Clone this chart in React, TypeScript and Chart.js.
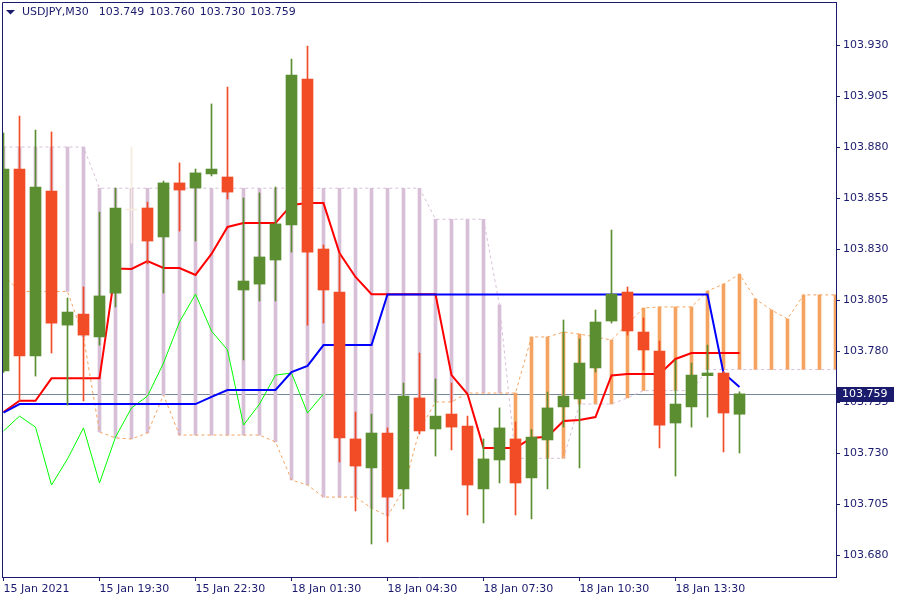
import React, { useEffect, useRef } from "react";
import { Chart, registerables } from "chart.js";

Chart.register(...registerables);

// ---------- data ----------
const symbolTitle = "USDJPY,M30";
const headerValues = ["103.749", "103.760", "103.730", "103.759"];

const xTickIndices = [0, 6, 12, 18, 24, 30, 36, 42];
const xTickLabels = [
  "15 Jan 2021",
  "15 Jan 19:30",
  "15 Jan 22:30",
  "18 Jan 01:30",
  "18 Jan 04:30",
  "18 Jan 07:30",
  "18 Jan 10:30",
  "18 Jan 13:30",
];
const yTickValues = [
  103.68, 103.705, 103.73, 103.755, 103.78, 103.805, 103.83, 103.855, 103.88, 103.905, 103.93,
];

const opens = [
  103.7702, 103.8692, 103.7776, 103.8584, 103.7927, 103.7981, 103.7869, 103.8084, 103.8491, 103.8501,
  103.8359, 103.8624, 103.8599, 103.8668, 103.8653, 103.8099, 103.8128, 103.8246, 103.8418, 103.9133,
  103.83, 103.8089, 103.7369, 103.7227, 103.7398, 103.7124, 103.757, 103.7418, 103.7491, 103.7432,
  103.7124, 103.7266, 103.7369, 103.7178, 103.7364, 103.7526, 103.7565, 103.7717, 103.7947, 103.8089,
  103.7893, 103.78, 103.7447, 103.7526, 103.7679, 103.7692, 103.749,
];
const highs = [
  103.8869, 103.8952, 103.8883, 103.8874, 103.806, 103.8114, 103.8481, 103.8599, 103.88, 103.853,
  103.8633, 103.8722, 103.8692, 103.9011, 103.9094, 103.855, 103.8575, 103.8604, 103.9231, 103.9295,
  103.832, 103.8276, 103.7501, 103.7491, 103.7423, 103.7643, 103.779, 103.7663, 103.7643, 103.7481,
  103.7369, 103.7521, 103.7452, 103.7415, 103.7599, 103.7952, 103.7859, 103.8001, 103.8393, 103.8114,
  103.7962, 103.7849, 103.7756, 103.7741, 103.7829, 103.77, 103.76,
];
const lows = [
  103.7695, 103.7555, 103.7677, 103.779, 103.7535, 103.7555, 103.7829, 103.8016, 103.8329, 103.8227,
  103.8084, 103.8388, 103.8339, 103.8658, 103.8545, 103.7756, 103.8045, 103.8045, 103.8285, 103.7927,
  103.7937, 103.7256, 103.7016, 103.6854, 103.6864, 103.7026, 103.7393, 103.7285, 103.7315, 103.6996,
  103.6957, 103.7153, 103.6996, 103.6977, 103.7124, 103.7427, 103.7227, 103.7697, 103.7937, 103.7878,
  103.7707, 103.7325, 103.7187, 103.7427, 103.7476, 103.7305, 103.73,
];
const closes = [
  103.8692, 103.7776, 103.8604, 103.7937, 103.7991, 103.7878, 103.807, 103.8501, 103.8491, 103.8339,
  103.8624, 103.8589, 103.8673, 103.8692, 103.8579, 103.8143, 103.8261, 103.8423, 103.9153, 103.8285,
  103.8099, 103.7374, 103.7236, 103.7398, 103.7084, 103.7579, 103.7408, 103.7481, 103.7427, 103.7143,
  103.7271, 103.7423, 103.7153, 103.7378, 103.7521, 103.7579, 103.7741, 103.7942, 103.8079, 103.7898,
  103.7805, 103.7437, 103.754, 103.7682, 103.7692, 103.7496, 103.759,
];

// Ichimoku (Tenkan 9, Kijun 26, Senkou B 52)
const tenkan = [
  103.7501, 103.7556, 103.7556, 103.7666, 103.7666, 103.7666, 103.7666, 103.8204, 103.8202, 103.8241,
  103.8207, 103.8207, 103.8173, 103.8276, 103.8408, 103.8427, 103.8427, 103.8427, 103.8516, 103.8525,
  103.8525, 103.828, 103.8163, 103.8078, 103.8078, 103.8078, 103.8078, 103.8078, 103.7682, 103.7589,
  103.7325, 103.7325, 103.7325, 103.7374, 103.738, 103.7457, 103.7462, 103.7476, 103.768, 103.7687,
  103.7687, 103.7687, 103.7761, 103.779, 103.779, 103.779, 103.779,
];
const kijun = [
  103.7498, 103.754, 103.754, 103.754, 103.754, 103.754, 103.754, 103.754, 103.754, 103.754,
  103.754, 103.754, 103.754, 103.7575, 103.7609, 103.7609, 103.7609, 103.7609, 103.7697, 103.7727,
  103.7829, 103.7829, 103.7829, 103.7829, 103.8077, 103.8077, 103.8077, 103.8077, 103.8077, 103.8077,
  103.8077, 103.8077, 103.8077, 103.8077, 103.8077, 103.8077, 103.8077, 103.8077, 103.8077, 103.8077,
  103.8077, 103.8077, 103.8077, 103.8077, 103.8077, 103.7692, 103.7624,
];
const senkouA = [
  103.8173, 103.8092, 103.8092, 103.8092, 103.8092, 103.7869, 103.7403, 103.7374, 103.7369, 103.7398,
  103.7584, 103.7388, 103.7388, 103.7388, 103.7388, 103.7388, 103.7388, 103.7354, 103.7168, 103.7143,
  103.7084, 103.7084, 103.7084, 103.703, 103.6991, 103.7119, 103.7413, 103.755, 103.755, 103.7594,
  103.7594, 103.7594, 103.7594, 103.7869, 103.7869, 103.7893, 103.7883, 103.7869, 103.7854, 103.7932,
  103.8011, 103.8016, 103.8016, 103.8016, 103.8094, 103.8128, 103.8177, 103.8055, 103.8001, 103.7957,
  103.8075, 103.8075, 103.8075,
];
const senkouB = [
  103.88, 103.88, 103.88, 103.88, 103.88, 103.88, 103.8598, 103.8598, 103.8598, 103.8598,
  103.8598, 103.8598, 103.8598, 103.8598, 103.8598, 103.8598, 103.8598, 103.8598, 103.8598, 103.8598,
  103.8598, 103.8598, 103.8598, 103.8598, 103.8598, 103.8598, 103.8598, 103.8446, 103.8446, 103.8446,
  103.8446, 103.8026, 103.7274, 103.7274, 103.7274, 103.7274, 103.754, 103.754, 103.754, 103.757,
  103.7606, 103.7606, 103.7606, 103.7606, 103.7709, 103.7709, 103.7709, 103.7709, 103.7709, 103.7709,
  103.7709, 103.7709, 103.7709,
];
const chikouShift = 26;

// ---------- style ----------
const NAVY = "#1b1b6e";
const BULL = "#5a8e30";
const BEAR = "#f14c26";
const DOJI = "#f6ebdf";
const FONT = "'DejaVu Sans', sans-serif";

const candleColor = (i: number) =>
  closes[i] > opens[i] ? BULL : closes[i] < opens[i] ? BEAR : DOJI;

const overlayPlugin = {
  id: "mtOverlay",
  beforeDatasetsDraw(chart: any) {
    const { ctx, chartArea, scales } = chart;
    const y = Math.round(scales.y.getPixelForValue(closes[closes.length - 1])) + 0.5;
    ctx.save();
    ctx.strokeStyle = "#778899";
    ctx.lineWidth = 1;
    ctx.beginPath();
    ctx.moveTo(chartArea.left, y);
    ctx.lineTo(chartArea.right, y);
    ctx.stroke();
    ctx.restore();
  },
  afterDraw(chart: any) {
    const { ctx, chartArea, scales } = chart;
    ctx.save();
    // frame (left & top; right & bottom come from the axes)
    ctx.strokeStyle = NAVY;
    ctx.lineWidth = 1;
    ctx.beginPath();
    ctx.moveTo(chartArea.left + 0.5, chartArea.bottom);
    ctx.lineTo(chartArea.left + 0.5, chartArea.top + 0.5);
    ctx.lineTo(chartArea.right, chartArea.top + 0.5);
    ctx.stroke();

    // current price box
    const py = scales.y.getPixelForValue(closes[closes.length - 1]);
    ctx.fillStyle = NAVY;
    ctx.fillRect(chartArea.right + 1, Math.round(py) - 7, 57, 15);
    ctx.fillStyle = "#ffffff";
    ctx.font = `11px ${FONT}`;
    ctx.textBaseline = "middle";
    ctx.textAlign = "left";
    ctx.fillText(closes[closes.length - 1].toFixed(3), chartArea.right + 6, Math.round(py) + 0.5);

    // header
    ctx.fillStyle = NAVY;
    ctx.beginPath();
    ctx.moveTo(6, 10);
    ctx.lineTo(15, 10);
    ctx.lineTo(10.5, 14.5);
    ctx.closePath();
    ctx.fill();
    let x = 22;
    const hy = 12.5;
    ctx.fillText(symbolTitle, x, hy);
    x += ctx.measureText(symbolTitle).width + 10;
    for (const v of headerValues) {
      ctx.fillText(v, x, hy);
      x += ctx.measureText(v).width + 5;
    }
    ctx.restore();
  },
};

export default function App() {
  const canvasRef = useRef<HTMLCanvasElement | null>(null);

  useEffect(() => {
    const canvas = canvasRef.current;
    if (!canvas) return;
    const idx = opens.map((_, i) => i);
    const chikou = closes.slice(chikouShift).map((v, i) => ({ x: i, y: v }));

    const chart = new Chart(canvas, {
      type: "line",
      data: {
        datasets: [
          {
            type: "bar",
            label: "body",
            data: idx.map((i) => ({ x: i, y: [opens[i], closes[i]] })) as any,
            backgroundColor: idx.map(candleColor),
            barThickness: 11,
            minBarLength: 1,
            grouped: false,
            borderWidth: 0,
            order: 0,
          } as any,
          {
            type: "bar",
            label: "wick",
            data: idx.map((i) => ({ x: i, y: [lows[i], highs[i]] })) as any,
            backgroundColor: idx.map(candleColor),
            barThickness: 1,
            grouped: false,
            borderWidth: 0,
            order: 1,
          } as any,
          {
            type: "line",
            label: "Kijun-sen",
            data: kijun.map((v, i) => ({ x: i, y: v })),
            borderColor: "#0000ff",
            borderWidth: 2,
            pointRadius: 0,
            tension: 0,
            order: 2,
          },
          {
            type: "line",
            label: "Tenkan-sen",
            data: tenkan.map((v, i) => ({ x: i, y: v })),
            borderColor: "#ff0000",
            borderWidth: 2,
            pointRadius: 0,
            tension: 0,
            order: 3,
          },
          {
            type: "line",
            label: "Chikou Span",
            data: chikou,
            borderColor: "#00ff00",
            borderWidth: 1,
            pointRadius: 0,
            tension: 0,
            order: 4,
          },
          {
            type: "line",
            label: "Senkou Span A",
            data: senkouA.map((v, i) => ({ x: i, y: v })),
            borderColor: "#f4a460",
            borderWidth: 1,
            borderDash: [3, 3],
            pointRadius: 0,
            tension: 0,
            order: 5,
          },
          {
            type: "line",
            label: "Senkou Span B",
            data: senkouB.map((v, i) => ({ x: i, y: v })),
            borderColor: "#d8bfd8",
            borderWidth: 1,
            borderDash: [3, 3],
            pointRadius: 0,
            tension: 0,
            order: 6,
          },
          {
            type: "bar",
            label: "cloud",
            data: senkouA.map((a, i) => ({ x: i, y: [a, senkouB[i]] })) as any,
            backgroundColor: senkouA.map((a, i) => (a >= senkouB[i] ? "#f4a460" : "#d8bfd8")),
            barThickness: 3,
            grouped: false,
            borderWidth: 0,
            order: 7,
          } as any,
        ],
      },
      options: {
        animation: false,
        responsive: false,
        devicePixelRatio: 1,
        events: [],
        layout: { padding: { left: 2, top: 2, right: 0, bottom: 0 } },
        plugins: { legend: { display: false }, tooltip: { enabled: false } },
        scales: {
          x: {
            type: "linear",
            position: "bottom",
            min: -0.09375,
            max: 52.03125,
            offset: false,
            grid: {
              display: true,
              offset: false,
              drawOnChartArea: false,
              drawTicks: true,
              tickLength: 4,
              color: NAVY,
            },
            border: { display: true, color: NAVY, width: 1 },
            ticks: {
              autoSkip: false,
              maxRotation: 0,
              minRotation: 0,
              align: "start",
              padding: 2,
              color: NAVY,
              font: { family: FONT, size: 11 },
              callback: (value: any) => {
                const k = xTickIndices.indexOf(Number(value));
                return k >= 0 ? xTickLabels[k] : "";
              },
            },
            afterBuildTicks: (s: any) => {
              s.ticks = xTickIndices.map((v) => ({ value: v }));
            },
            afterFit: (s: any) => {
              s.height = 23;
              s.paddingLeft = 0;
              s.paddingRight = 0;
            },
          } as any,
          y: {
            type: "linear",
            position: "right",
            min: 103.66922,
            max: 103.95108,
            beginAtZero: false,
            grid: {
              display: true,
              drawOnChartArea: false,
              drawTicks: true,
              tickLength: 4,
              color: NAVY,
            },
            border: { display: true, color: NAVY, width: 1 },
            ticks: {
              padding: 3,
              color: NAVY,
              font: { family: FONT, size: 11 },
              callback: (value: any) => Number(value).toFixed(3),
            },
            afterBuildTicks: (s: any) => {
              s.ticks = yTickValues.map((v) => ({ value: v }));
            },
            afterFit: (s: any) => {
              s.width = 64;
              s.paddingTop = 0;
              s.paddingBottom = 0;
            },
          } as any,
        },
      },
      plugins: [overlayPlugin],
    });

    return () => chart.destroy();
  }, []);

  return (
    <div style={{ position: "fixed", left: 0, top: 0, width: 900, height: 600, background: "#ffffff" }}>
      <canvas ref={canvasRef} width={900} height={600} style={{ display: "block", width: 900, height: 600 }} />
    </div>
  );
}
